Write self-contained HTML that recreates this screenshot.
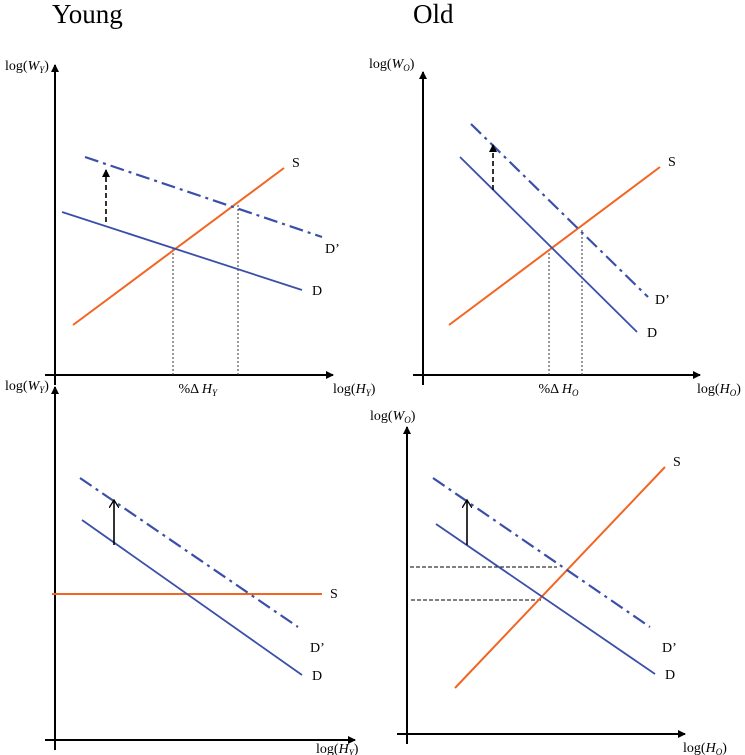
<!DOCTYPE html>
<html><head><meta charset="utf-8"><style>
html,body{margin:0;padding:0;background:#fff}
svg{display:block}
text{font-family:"Liberation Serif",serif;fill:#000}
</style></head><body>
<svg id="c" width="745" height="755" viewBox="0 0 745 755" xmlns="http://www.w3.org/2000/svg">
<defs>
<marker id="ah" markerWidth="8" markerHeight="8" refX="7" refY="4" orient="auto" markerUnits="userSpaceOnUse"><path d="M0,0 L8,4 L0,8 Z" fill="#000"/></marker>
<marker id="oa" markerWidth="10" markerHeight="10" refX="8" refY="5" orient="auto" markerUnits="userSpaceOnUse"><path d="M0,0 L8,5 L0,10" fill="none" stroke="#000" stroke-width="1.3"/></marker>
</defs>
<text x="52" y="23" font-size="27">Young</text>
<text x="413" y="23" font-size="27">Old</text>
</svg>
<script>
// Data: line endpoints in log units relative to each panel's axis origin (x right, y up)
const panelNames = ['young-top','old-top','young-bottom','old-bottom'];
const origins = [[55,375],[423,375],[55,740],[407,734]];
const supplyLines = [[[18,50],[229,207]],[[26,50],[237,208]],[[-3,146],[267,146]],[[48,46],[258,267]]];
const demandLines = [[[7,163],[247,85]],[[37,218],[214,43]],[[27,220],[247,65]],[[29,210],[248,60]]];
const shiftedDemandLines = [[[30,218],[267,138]],[[48,251],[225,78]],[[25,262],[243,113]],[[26,256],[243,107]]];
const shiftArrows = [[51,153,205],[70,185,230],[59,195,240],[60,189,234]];
const verticalGuides = [[[118,127],[183,170]],[[126,127],[159,145]],[],[]];
const horizontalGuides = [[],[],[],[[167,3,150],[134,4,136]]];
const yAxisLabels = [['W','Y'],['W','O'],['W','Y'],['W','O']];
const xAxisLabels = [['H','Y'],['H','O'],['H','Y'],['H','O']];
const axisGeom = [[[-10,278],[-10,310]],[[-10,277],[-10,303]],[[-10,300],[-10,353]],[[-10,278],[-10,307]]];
const changeLabels = ['Y','O',null,null];
const yLabelPos = [[5,70],[369,68],[5,390],[370,420]];
const xLabelOffset = [[0,18],[-3,18],[-39,13],[-2,18]];

const svg = document.getElementById('c');
const NS = 'http://www.w3.org/2000/svg';
function mk(tag, attrs){const e=document.createElementNS(NS,tag);for(const k in attrs)e.setAttribute(k,attrs[k]);svg.appendChild(e);return e;}

panelNames.forEach((pn,i)=>{
  const [ox,oy]=origins[i];
  const X=v=>ox+v, Y=v=>oy-v;
  const [xa,ya]=axisGeom[i];
  let e;
  e=mk('line',{x1:X(xa[0]),y1:Y(0),x2:X(xa[1]),y2:Y(0),stroke:'#000','stroke-width':2,'marker-end':'url(#ah)'});
  
  
  e=mk('line',{x1:X(0),y1:Y(ya[0]),x2:X(0),y2:Y(ya[1]),stroke:'#000','stroke-width':2,'marker-end':'url(#ah)'});
  
  
  e=mk('text',{x:yLabelPos[i][0],y:yLabelPos[i][1],'font-size':14});
  e.innerHTML='log(<tspan font-style="italic">'+yAxisLabels[i][0]+'</tspan><tspan font-style="italic" font-size="9" dy="3">'+yAxisLabels[i][1]+'</tspan><tspan dy="-3">)</tspan>';
  
  
  e=mk('text',{x:X(xa[1])+xLabelOffset[i][0],y:Y(0)+xLabelOffset[i][1],'font-size':14});
  e.innerHTML='log(<tspan font-style="italic">'+xAxisLabels[i][0]+'</tspan><tspan font-style="italic" font-size="9" dy="3">'+xAxisLabels[i][1]+'</tspan><tspan dy="-3">)</tspan>';
  
  
  verticalGuides[i].forEach(g=>{
    e=mk('line',{x1:X(g[0]),y1:Y(0),x2:X(g[0]),y2:Y(g[1]),stroke:'#333','stroke-width':1,'stroke-dasharray':'2,2'});
    
    
  });
  horizontalGuides[i].forEach(g=>{
    e=mk('line',{x1:X(g[1]),y1:Y(g[0]),x2:X(g[2]),y2:Y(g[0]),stroke:'#000','stroke-width':1,'stroke-dasharray':'4,2'});
    
    
  });
  if(changeLabels[i]){
    const g=verticalGuides[i];
    e=mk('text',{x:X((g[0][0]+g[1][0])/2)-27,y:Y(0)+18,'font-size':14});
    e.innerHTML='%Δ <tspan font-style="italic">H</tspan><tspan font-style="italic" font-size="9" dy="3">'+changeLabels[i]+'</tspan>';
    
    
  }
  const s=supplyLines[i], d=demandLines[i], dp=shiftedDemandLines[i];
  e=mk('line',{x1:X(s[0][0]),y1:Y(s[0][1]),x2:X(s[1][0]),y2:Y(s[1][1]),stroke:'#f26522','stroke-width':2});
  
  
  e=mk('line',{x1:X(d[0][0]),y1:Y(d[0][1]),x2:X(d[1][0]),y2:Y(d[1][1]),stroke:'#3a4fa8','stroke-width':1.8});
  
  
  e=mk('line',{x1:X(dp[0][0]),y1:Y(dp[0][1]),x2:X(dp[1][0]),y2:Y(dp[1][1]),stroke:'#3a4fa8','stroke-width':2.2,'stroke-dasharray':'14,5,3,5'});
  
  
  const a=shiftArrows[i];
  e=mk('line',{x1:X(a[0]),y1:Y(a[1]),x2:X(a[0]),y2:Y(a[2]),stroke:'#000','stroke-width':1.6,'stroke-dasharray':i<2?'5,3':'none','marker-end':i<2?'url(#ah)':'url(#oa)'});
  
  
  e=mk('text',{x:X(s[1][0])+8,y:Y(s[1][1])+(i==2?4:-1),'font-size':14});e.textContent='S';
  
  
  e=mk('text',{x:X(d[1][0])+10,y:Y(d[1][1])+5,'font-size':14});e.textContent='D';
  
  
  e=mk('text',{x:X(dp[1][0])+(i==0?3:i==1?7:12),y:Y(dp[1][1])+(i==0?16:i==1?7:25),'font-size':14});e.textContent='D’';
  
  
});
</script>
</body></html>
